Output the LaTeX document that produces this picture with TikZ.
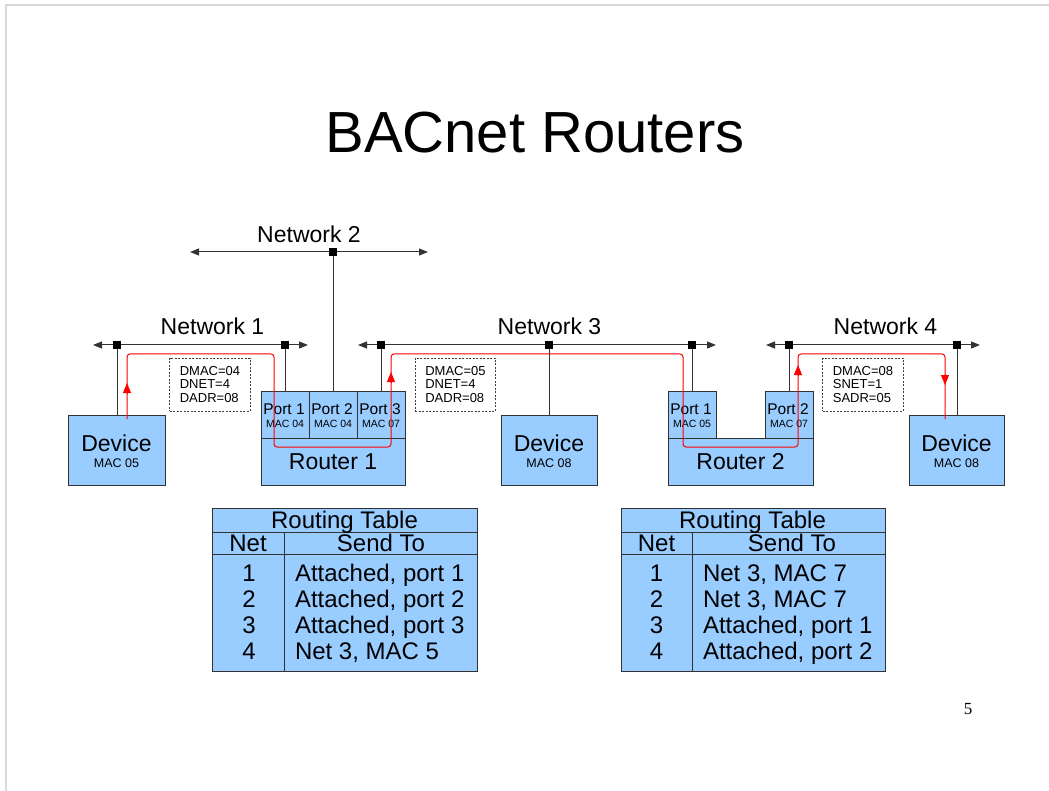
\documentclass[tikz,border=0pt]{standalone}
\usepackage{fontspec}
\setmainfont{Liberation Sans}
\newfontfamily\pagenumfont{Liberation Serif}
\usetikzlibrary{arrows.meta,positioning}
\definecolor{boxblue}{RGB}{153,204,255}
\definecolor{edgegray}{RGB}{51,51,51}

\begin{document}
\begin{tikzpicture}[x=1pt,y=-1pt,
  every node/.style={inner sep=0pt, outer sep=0pt},
  unit/.style={draw=edgegray, fill=boxblue, line width=1pt},
  bus/.style={draw=edgegray, line width=1pt,
    {Triangle[length=9pt,width=7pt]}-{Triangle[length=9pt,width=7pt]}},
  stub/.style={draw=edgegray, line width=1pt},
  junction/.style={fill=black, minimum size=8pt},
  flow/.style={draw=red, line width=1pt, rounded corners=3pt},
  flowtip/.style={draw=red, fill=red, line width=1pt, -{Triangle[length=10pt,width=8pt]}},
  netlabel/.style={font=\fontsize{23}{27}\selectfont, anchor=base},
  bigtext/.style={font=\fontsize{23}{27}\selectfont, anchor=base},
  devmac/.style={font=\fontsize{12.5}{14}\selectfont, anchor=base},
  porttext/.style={font=\fontsize{15.5}{18}\selectfont, anchor=base},
  portmac/.style={font=\fontsize{10.5}{12}\selectfont, anchor=base},
  infobox/.style={draw=black!75, dash pattern=on 2pt off 1.5pt, line width=0.7pt,
    fill=white, inner xsep=10pt, minimum height=53pt, align=left,
    font=\fontsize{13}{13.5}\selectfont},
  cell/.style={font=\fontsize{24}{26}\selectfont, anchor=base}]

\useasboundingbox (0,0) rectangle (1049,791);
\draw[black!15, line width=2pt] (6,791) -- (6,5) -- (1049,5);

% title
\node[font=\fontsize{58}{64}\selectfont, anchor=base] (title) at (535,153) {BACnet Routers};

% devices and routers
\node[unit, minimum width=97pt, minimum height=70pt] (dev1) at (116.5,450) {};
\node[unit, minimum width=96pt, minimum height=70pt] (dev2) at (549,450) {};
\node[unit, minimum width=95pt, minimum height=70pt] (dev3) at (956.5,450) {};

\node[unit, minimum width=144pt, minimum height=47pt] (r1) at (333,461.5) {};
\node[unit, minimum width=48pt, minimum height=47pt] (r1p1) at (285,414.5) {};
\node[unit, minimum width=48pt, minimum height=47pt] (r1p2) at (333,414.5) {};
\node[unit, minimum width=48pt, minimum height=47pt] (r1p3) at (381,414.5) {};

\node[unit, minimum width=145pt, minimum height=47pt] (r2) at (740.5,461.5) {};
\node[unit, minimum width=48pt, minimum height=47pt] (r2p1) at (692,414.5) {};
\node[unit, minimum width=48pt, minimum height=47pt] (r2p2) at (789,414.5) {};

% texts in the boxes
\foreach \d/\m in {dev1/05, dev2/08, dev3/08} {
  \node[bigtext] (\d t) at ([yshift=-1pt]\d.center) {Device};
  \node[devmac] (\d m) at ([yshift=-17pt]\d.center) {MAC \m};
}
\foreach \p/\n/\m in {r1p1/1/04, r1p2/2/04, r1p3/3/07, r2p1/1/05, r2p2/2/07} {
  \node[porttext] (\p t) at ([xshift=-1pt,yshift=0.5pt]\p.center) {Port \n};
  \node[portmac] (\p m) at ([yshift=-12.5pt]\p.center) {MAC \m};
}
\node[bigtext] (r1t) at ([yshift=-7.5pt]r1.center) {Router 1};
\node[bigtext] (r2t) at ([yshift=-7.5pt]r2.center) {Router 2};

% networks
\coordinate (n2a) at (190,252);  \coordinate (n2b) at (428,252);
\coordinate (n1a) at (93,345);   \coordinate (n1b) at (308,345);
\coordinate (n3a) at (358,345);  \coordinate (n3b) at (716,345);
\coordinate (n4a) at (766,345);  \coordinate (n4b) at (980,345);
\draw[bus] (n2a) -- (n2b);
\draw[bus] (n1a) -- (n1b);
\draw[bus] (n3a) -- (n3b);
\draw[bus] (n4a) -- (n4b);
\node[netlabel] (n2l) at (309,243) {Network 2};
\node[netlabel] (n1l) at (212.5,334.5) {Network 1};
\node[netlabel] (n3l) at (549.5,334.5) {Network 3};
\node[netlabel] (n4l) at (885.5,334.5) {Network 4};

\node[junction] (j2) at (333,252) {};
\node[junction] (j1a) at (117,345) {};
\node[junction] (j1b) at (285,345) {};
\node[junction] (j3a) at (381,345) {};
\node[junction] (j3b) at (549,345) {};
\node[junction] (j3c) at (692,345) {};
\node[junction] (j4a) at (789,345) {};
\node[junction] (j4b) at (957,345) {};

\draw[stub] (j2) -- (r1p2.north);
\draw[stub] (j1a) -- (dev1.north -| j1a);
\draw[stub] (j1b) -- (r1p1.north);
\draw[stub] (j3a) -- (r1p3.north);
\draw[stub] (j3b) -- (dev2.north);
\draw[stub] (j3c) -- (r2p1.north);
\draw[stub] (j4a) -- (r2p2.north);
\draw[stub] (j4b) -- (dev3.north -| j4b);

% message path
\draw[flow] ([xshift=10.5pt,yshift=-4pt]dev1.north) |- (274,354) |- (391,447)
  |- (683,354) |- (798,447) |- (945,354) -- ([xshift=-11.5pt,yshift=-4pt]dev3.north);
\draw[flowtip] (127,394) -- (127,383);
\draw[flowtip] (391,383) -- (391,372);
\draw[flowtip] (798,376) -- (798,365);
\draw[flowtip] (945,374) -- (945,385);

% frames
\node[infobox] (msg1) at (210,384.5) {DMAC=04\\DNET=4\\DADR=08};
\node[infobox] (msg2) at (455.5,384.5) {DMAC=05\\DNET=4\\DADR=08};
\node[infobox] (msg3) at (863,384.5) {DMAC=08\\SNET=1\\SADR=05};

% routing tables
\draw[unit] (212,508) rectangle (477,671);
\draw[stub] (212,532) -- (477,532) (212,554) -- (477,554) (284,532) -- (284,671);
\node[cell] (t1h) at (344.5,528) {Routing Table};
\node[cell] (t1n) at (248,551.5) {Net};
\node[cell] (t1s) at (381,551.5) {Send To};
\foreach \n/\txt [count=\i from 0] in {1/{Attached, port 1}, 2/{Attached, port 2},
    3/{Attached, port 3}, 4/{Net 3, MAC 5}} {
  \node[cell] (t1r\n) at (249,581+26*\i) {\n};
  \node[cell, anchor=base west] (t1x\n) at (295,581+26*\i) {\txt};
}

\draw[unit] (621,508) rectangle (885,671);
\draw[stub] (621,532) -- (885,532) (621,554) -- (885,554) (692,532) -- (692,671);
\node[cell] (t2h) at (752.5,528) {Routing Table};
\node[cell] (t2n) at (656.5,551.5) {Net};
\node[cell] (t2s) at (792,551.5) {Send To};
\foreach \n/\txt [count=\i from 0] in {1/{Net 3, MAC 7}, 2/{Net 3, MAC 7},
    3/{Attached, port 1}, 4/{Attached, port 2}} {
  \node[cell] (t2r\n) at (656.5,581+26*\i) {\n};
  \node[cell, anchor=base west] (t2x\n) at (703,581+26*\i) {\txt};
}

\node[font=\pagenumfont\fontsize{17}{20}\selectfont, anchor=base] (pagenum) at (968,714) {5};
\end{tikzpicture}
\end{document}
